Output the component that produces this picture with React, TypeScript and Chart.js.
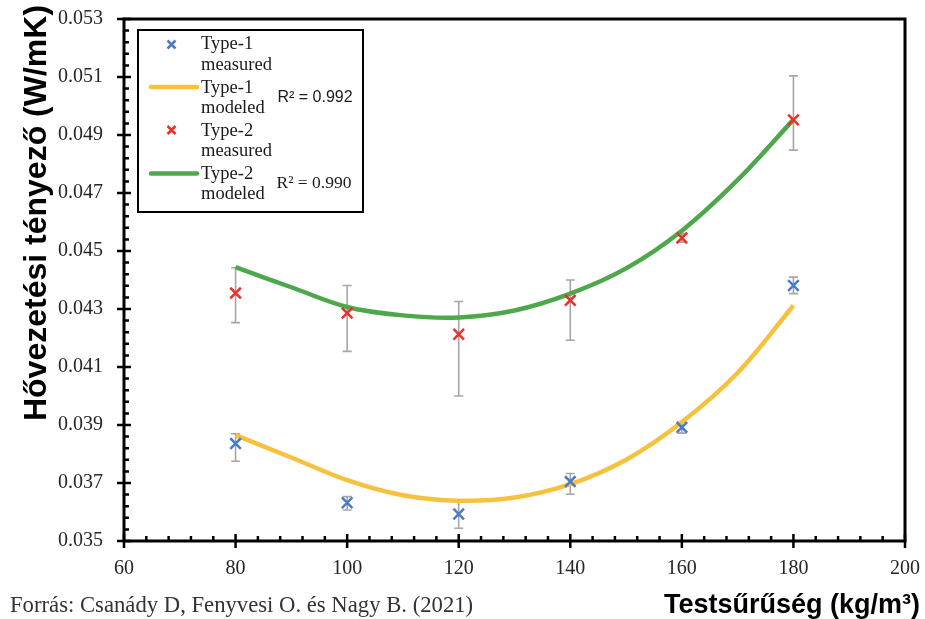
import React, { useEffect, useRef } from "react";
import { Chart, registerables } from "chart.js";

Chart.register(...registerables);

// ---- data ----
const densities = [80, 100, 120, 140, 160, 180];

const type1Measured = [0.03836, 0.03632, 0.03593, 0.03705, 0.03892, 0.04381];
const type1ErrHigh = [0.0387, 0.03653, 0.0364, 0.03733, 0.0391, 0.0441];
const type1ErrLow = [0.03775, 0.03607, 0.03544, 0.03661, 0.03872, 0.04353];

const type2Measured = [0.04355, 0.04286, 0.04213, 0.0433, 0.04545, 0.04952];
const type2ErrHigh = [0.04442, 0.04381, 0.04326, 0.044, 0.0456, 0.05104];
const type2ErrLow = [0.04253, 0.04154, 0.04, 0.04192, 0.0453, 0.04848];

const modelDensities = [80, 90, 100, 110, 120, 130, 140, 150, 160, 170, 180];
const type1Modeled = [0.03865, 0.03788, 0.0371, 0.03658, 0.03639, 0.0365, 0.03696, 0.0378, 0.0391, 0.0408, 0.04312];
const type2Modeled = [0.04444, 0.04375, 0.04307, 0.04278, 0.04271, 0.04295, 0.04353, 0.0444, 0.0457, 0.04745, 0.04953];

const xMin = 60, xMax = 200, xStep = 20;
const yMin = 0.035, yMax = 0.053, yStep = 0.002;

const legendLabels = ["Type-1", "measured", "Type-1", "modeled", "Type-2", "measured", "Type-2", "modeled"];
const r2Labels = ["R\u00B2 = 0.992", "R\u00B2 = 0.990"];

const yTitle = "H\u0151vezet\u00E9si t\u00E9nyez\u0151 (W/mK)";
const xTitle = "Tests\u0171r\u0171s\u00E9g (kg/m\u00B3)";
const sourceText = "Forr\u00E1s: Csan\u00E1dy D, Fenyvesi O. \u00E9s Nagy B. (2021)";

const BLUE = "#4A7CC4";
const RED = "#E8332B";
const YELLOW = "#F6C23E";
const GREEN = "#4DA84B";
const ERR = "#A6A6A6";

function pts(xs: number[], ys: number[]) {
  return xs.map((x, i) => ({ x, y: ys[i] }));
}

function drawCross(ctx: CanvasRenderingContext2D, x: number, y: number, r: number, color: string) {
  ctx.save();
  ctx.strokeStyle = color;
  ctx.lineWidth = 2.5;
  ctx.beginPath();
  ctx.moveTo(x - r, y - r);
  ctx.lineTo(x + r, y + r);
  ctx.moveTo(x + r, y - r);
  ctx.lineTo(x - r, y + r);
  ctx.stroke();
  ctx.restore();
}

const decorPlugin = {
  id: "decor",
  beforeDatasetsDraw(chart: any) {
    const ctx = chart.ctx as CanvasRenderingContext2D;
    const xs = chart.scales.x;
    const ys = chart.scales.y;
    ctx.save();
    ctx.strokeStyle = ERR;
    ctx.lineWidth = 1.6;
    const bars = (hi: number[], lo: number[]) => {
      densities.forEach((d, i) => {
        const px = xs.getPixelForValue(d);
        const top = ys.getPixelForValue(hi[i]);
        const bot = ys.getPixelForValue(lo[i]);
        ctx.beginPath();
        ctx.moveTo(px, top);
        ctx.lineTo(px, bot);
        ctx.moveTo(px - 4.5, top);
        ctx.lineTo(px + 4.5, top);
        ctx.moveTo(px - 4.5, bot);
        ctx.lineTo(px + 4.5, bot);
        ctx.stroke();
      });
    };
    bars(type2ErrHigh, type2ErrLow);
    bars(type1ErrHigh, type1ErrLow);
    ctx.restore();
  },
  afterDraw(chart: any) {
    const ctx = chart.ctx as CanvasRenderingContext2D;
    const xs = chart.scales.x;
    const ys = chart.scales.y;
    const a = chart.chartArea;
    ctx.save();
    // frame
    ctx.strokeStyle = "#000";
    ctx.lineWidth = 3;
    ctx.strokeRect(a.left, a.top, a.right - a.left, a.bottom - a.top);
    // x ticks
    ctx.lineWidth = 2.5;
    ctx.beginPath();
    for (let v = xMin; v <= xMax + 1e-9; v += xStep / 5) {
      const px = xs.getPixelForValue(v);
      const major = Math.abs(((v - xMin) / xStep) - Math.round((v - xMin) / xStep)) < 1e-6;
      if (major) {
        ctx.moveTo(px, a.bottom - 7);
        ctx.lineTo(px, a.bottom + 7);
      } else {
        ctx.moveTo(px, a.bottom);
        ctx.lineTo(px, a.bottom - 5);
      }
    }
    // y ticks
    const n = Math.round((yMax - yMin) / (yStep / 5));
    for (let k = 0; k <= n; k++) {
      const v = yMin + (k * yStep) / 5;
      const py = ys.getPixelForValue(v);
      if (k % 5 === 0) {
        ctx.moveTo(a.left - 7, py);
        ctx.lineTo(a.left + 7, py);
      } else {
        ctx.moveTo(a.left, py);
        ctx.lineTo(a.left + 5, py);
      }
    }
    ctx.stroke();

    // legend box
    const lx = 138, ly = 30, lw = 225, lh = 182;
    ctx.fillStyle = "#fff";
    ctx.fillRect(lx, ly, lw, lh);
    ctx.lineWidth = 2;
    ctx.strokeStyle = "#000";
    ctx.strokeRect(lx, ly, lw, lh);

    drawCross(ctx, 171.5, 44.5, 4, BLUE);
    drawCross(ctx, 171.5, 130, 4, RED);
    ctx.lineCap = "round";
    ctx.lineWidth = 4.5;
    ctx.strokeStyle = YELLOW;
    ctx.beginPath();
    ctx.moveTo(151, 87);
    ctx.lineTo(197, 87);
    ctx.stroke();
    ctx.strokeStyle = GREEN;
    ctx.beginPath();
    ctx.moveTo(151, 173.5);
    ctx.lineTo(197, 173.5);
    ctx.stroke();

    ctx.fillStyle = "#1a1a1a";
    ctx.textBaseline = "middle";
    ctx.textAlign = "left";
    ctx.font = '18.5px "Liberation Serif"';
    const rows = [44, 65, 88, 108, 131.5, 151.5, 174, 194];
    legendLabels.forEach((t, i) => ctx.fillText(t, 201, rows[i]));
    ctx.font = '16px "Liberation Sans"';
    ctx.fillText(r2Labels[0], 277.5, 97.5);
    ctx.font = '17.5px "Liberation Serif"';
    ctx.fillText(r2Labels[1], 276.5, 183.5);

    // y title
    ctx.save();
    ctx.translate(37, 213);
    ctx.rotate(-Math.PI / 2);
    ctx.fillStyle = "#000";
    ctx.textAlign = "center";
    ctx.textBaseline = "middle";
    ctx.font = 'bold 32px "Liberation Sans"';
    ctx.fillText(yTitle, 0, 0);
    ctx.restore();

    // x title
    ctx.fillStyle = "#000";
    ctx.textAlign = "right";
    ctx.textBaseline = "alphabetic";
    ctx.font = 'bold 27px "Liberation Sans"';
    ctx.fillText(xTitle, 920, 613);

    // source
    ctx.fillStyle = "#333";
    ctx.textAlign = "left";
    ctx.font = '22.7px "Liberation Serif"';
    ctx.fillText(sourceText, 10, 612);
    ctx.restore();
  },
};

export default function App() {
  const ref = useRef<HTMLCanvasElement | null>(null);
  useEffect(() => {
    if (!ref.current) return;
    const chart = new Chart(ref.current, {
      type: "line",
      data: {
        datasets: [
          {
            label: "Type-1 measured",
            data: pts(densities, type1Measured),
            showLine: false,
            pointStyle: "crossRot",
            pointRadius: 7.5,
            pointBorderWidth: 2.5,
            borderColor: BLUE,
            backgroundColor: BLUE,
            order: 0,
          },
          {
            label: "Type-2 measured",
            data: pts(densities, type2Measured),
            showLine: false,
            pointStyle: "crossRot",
            pointRadius: 7.5,
            pointBorderWidth: 2.5,
            borderColor: RED,
            backgroundColor: RED,
            order: 0,
          },
          {
            label: "Type-1 modeled",
            data: pts(modelDensities, type1Modeled),
            borderColor: YELLOW,
            borderWidth: 4.5,
            pointRadius: 0,
            tension: 0.35,
            fill: false,
            order: 1,
          },
          {
            label: "Type-2 modeled",
            data: pts(modelDensities, type2Modeled),
            borderColor: GREEN,
            borderWidth: 4.5,
            pointRadius: 0,
            tension: 0.35,
            fill: false,
            order: 1,
          },
        ],
      },
      options: {
        animation: false,
        responsive: true,
        maintainAspectRatio: false,
        layout: { padding: { left: 0, top: 19, right: 20, bottom: 0 } },
        plugins: { legend: { display: false }, tooltip: { enabled: false } },
        scales: {
          x: {
            type: "linear",
            min: xMin,
            max: xMax,
            ticks: {
              stepSize: xStep,
              padding: 0,
              color: "#262626",
              font: { family: "Liberation Serif", size: 20 },
            },
            grid: {
              display: true,
              drawOnChartArea: false,
              drawTicks: true,
              tickLength: 16,
              color: "rgba(0,0,0,0)",
            },
            border: { display: false },
            afterFit: (s: any) => {
              s.height = 78;
            },
          },
          y: {
            type: "linear",
            min: yMin,
            max: yMax,
            ticks: {
              stepSize: yStep,
              padding: 0,
              color: "#262626",
              font: { family: "Liberation Serif", size: 20 },
              callback: (v: any) => Number(v).toFixed(3),
            },
            grid: {
              display: true,
              drawOnChartArea: false,
              drawTicks: true,
              tickLength: 21,
              color: "rgba(0,0,0,0)",
            },
            border: { display: false },
            afterFit: (s: any) => {
              s.width = 124;
            },
          },
        },
      },
      plugins: [decorPlugin],
    } as any);
    return () => chart.destroy();
  }, []);
  return (
    <div style={{ position: "absolute", left: 0, top: 0, width: 925, height: 619, background: "#fff" }}>
      <canvas ref={ref} />
    </div>
  );
}
